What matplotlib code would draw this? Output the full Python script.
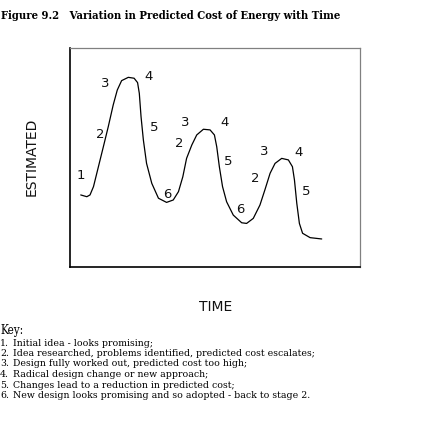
import matplotlib
matplotlib.use("Agg")
import matplotlib.pyplot as plt

# ---- data (time, estimated cost), arbitrary units 0-100 ----
time = [3.7, 5.8, 6.9, 8.1, 9.8, 11.5, 13.2, 14.9, 16.3, 17.8, 20.1, 22.1, 23.3, 23.9,
        24.5, 25.3, 26.4, 28.2, 30.5, 33.3, 35.6, 37.4, 38.9, 40.2, 42.0, 43.7, 46.0,
        48.3, 49.8, 50.6, 51.5, 52.6, 54.0, 56.3, 59.2, 60.9, 63.2, 65.5, 67.2, 69.0,
        70.7, 73.0, 75.3, 76.7, 77.4, 78.2, 79.1, 80.2, 82.8, 86.8]
cost = [32.9, 32.1, 32.9, 36.7, 45.8, 54.9, 64.1, 74.0, 80.8, 85.1, 86.6, 86.2, 84.2, 79.3,
        68.6, 58.0, 47.3, 38.2, 31.4, 29.5, 30.6, 34.4, 41.2, 49.6, 55.7, 60.3, 62.9,
        62.6, 60.3, 54.9, 45.8, 36.7, 29.8, 23.7, 20.2, 19.9, 22.2, 28.3, 35.2, 42.8,
        47.3, 49.6, 48.9, 45.8, 39.7, 29.1, 19.9, 15.4, 13.4, 12.8]

stage_labels = ["1", "3", "4", "2", "5", "6",
                "3", "4", "2", "5", "6",
                "3", "4", "2", "5"]
stage_t = [3.7, 12.2, 27.2, 10.3, 29.1, 33.7,
           39.6, 53.4, 37.5, 54.6, 58.6,
           66.9, 78.7, 64.0, 81.3]
stage_c = [42.0, 84.0, 86.8, 60.7, 63.8, 33.0,
           65.9, 65.9, 56.5, 48.0, 26.1,
           52.7, 52.5, 40.4, 34.7]

title = "Figure 9.2   Variation in Predicted Cost of Energy with Time"
xlabel = "TIME"
ylabel = "ESTIMATED"
key_title = "Key:"
key_nums = ["1.", "2.", "3.", "4.", "5.", "6."]
key_items = [
    "Initial idea - looks promising;",
    "Idea researched, problems identified, predicted cost escalates;",
    "Design fully worked out, predicted cost too high;",
    "Radical design change or new approach;",
    "Changes lead to a reduction in predicted cost;",
    "New design looks promising and so adopted - back to stage 2.",
]

SERIF = ["DejaVu Serif", "Liberation Serif"]
STRETCH = "condensed"

W = H = 437
fig = plt.figure(figsize=(W / 100, H / 100), dpi=100)
fig.patch.set_facecolor("white")

def fx(px):
    return px / W

def fy(py):
    return 1 - py / H

# box: px left 70, right 360, top 48, bottom 267
ax = fig.add_axes([fx(70), fy(267), fx(360) - fx(70), fy(48) - fy(267)])
ax.set_xlim(0, 100)
ax.set_ylim(0, 100)
ax.set_xticks([])
ax.set_yticks([])
ax.spines["left"].set_color("black")
ax.spines["bottom"].set_color("black")
ax.spines["left"].set_linewidth(1.2)
ax.spines["bottom"].set_linewidth(1.2)
ax.spines["top"].set_color("#808080")
ax.spines["right"].set_color("#808080")
ax.spines["top"].set_linewidth(0.9)
ax.spines["right"].set_linewidth(0.9)

ax.plot(time, cost, color="black", lw=0.9, solid_capstyle="round", solid_joinstyle="round")
for lab, t, c in zip(stage_labels, stage_t, stage_c):
    ax.text(t, c, lab, ha="center", va="center", fontsize=9.5,
            family="DejaVu Sans", color="#111111")

fig.text(fx(32), fy(157), ylabel, rotation=90, ha="center", va="center",
         fontsize=10, family="DejaVu Sans", color="#111111")
fig.text(fx(216), fy(307), xlabel, ha="center", va="center",
         fontsize=10, family="DejaVu Sans", color="#111111")

renderer = fig.canvas.get_renderer()

def fit_size(s, target_w, size0, **kw):
    t = fig.text(0, 0, s, fontsize=size0, **kw)
    w = t.get_window_extent(renderer).width
    t.remove()
    return size0 * target_w / w

ts = fit_size(title, 340, 10, family=SERIF, weight="bold", fontstretch=STRETCH)
fig.text(fx(1), fy(19), title, fontsize=ts, family=SERIF, weight="bold",
         fontstretch=STRETCH, ha="left", va="baseline", color="black")
ks = fit_size(key_title, 23, 10, family=SERIF, fontstretch=STRETCH)
fig.text(fx(0), fy(334), key_title, fontsize=ks, family=SERIF, fontstretch=STRETCH,
         ha="left", va="baseline", color="black")
ls = fit_size(key_items[1], 299, 8, family=SERIF, fontstretch=STRETCH)
base0 = 345.5
step = 10.5
for i, (n, s) in enumerate(zip(key_nums, key_items)):
    fig.text(fx(0), fy(base0 + i * step), n, fontsize=ls, family=SERIF,
             fontstretch=STRETCH, ha="left", va="baseline", color="black")
    fig.text(fx(13), fy(base0 + i * step), s, fontsize=ls, family=SERIF,
             fontstretch=STRETCH, ha="left", va="baseline", color="black")

fig.savefig("out.png", dpi=100)
